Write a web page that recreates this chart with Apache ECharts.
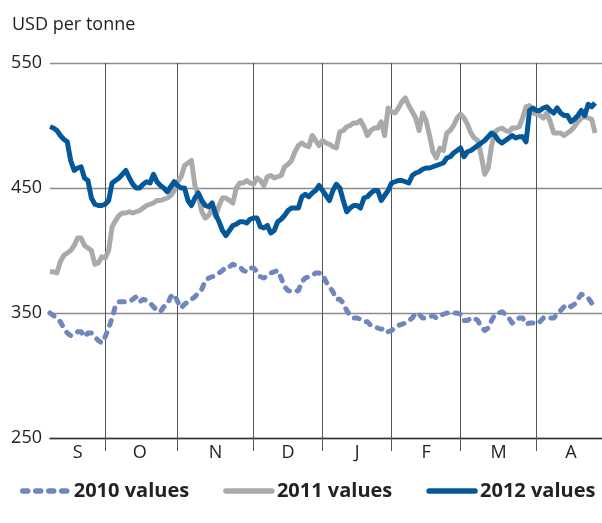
<!DOCTYPE html>
<html>
<head>
<meta charset="utf-8">
<script src="https://cdn.jsdelivr.net/npm/echarts@6/dist/echarts.min.js"></script>
<style>
  html, body { margin: 0; padding: 0; background: #fff; }
  #chart { width: 602px; height: 523px; }
</style>
</head>
<body>
<div id="chart"></div>
<script>
// months shown on the axis and how many trading days each one covers
const monthLabels = ['S', 'O', 'N', 'D', 'J', 'F', 'M', 'A'];
const monthLengths = [16, 21, 22, 20, 20, 20, 22, 20];
const yTicks = [250, 350, 450, 550];

// USD per tonne, one value per trading day
const values2010 = [
  350, 348, 346, 343, 338, 334, 332, 333, 335, 335, 331, 334, 334, 331, 328, 326,
  331, 338, 346, 356, 359, 359, 359, 359, 361, 363, 359, 361, 360, 358, 355, 352,
  351, 355, 357, 363, 365, 359, 354, 357, 359, 361, 363, 366, 369, 376, 378, 379,
  380, 382, 384, 387, 387, 389, 388, 387, 384, 383, 386, 386, 383, 379, 378, 380,
  382, 383, 384, 378, 371, 368, 367, 367, 368, 375, 378, 379, 380, 382, 382, 381,
  375, 371, 367, 361, 361, 358, 352, 348, 346, 346, 345, 343, 343, 340, 339, 338,
  337, 338, 335, 336, 338, 340, 341, 342, 344, 346, 350, 349, 346, 346, 347, 348,
  346, 348, 349, 350, 350, 350, 350, 349, 344, 344, 346, 346, 344, 339, 336, 338,
  344, 349, 350, 351, 349, 346, 342, 344, 346, 346, 341, 342, 342, 341, 343, 346,
  347, 346, 346, 349, 352, 355, 357, 355, 357, 361, 365, 364, 362, 358, 358
];
const values2011 = [
  383, 383, 382, 391, 396, 398, 400, 404, 410, 410, 404, 402, 400, 389, 390, 395,
  394, 400, 419, 424, 428, 430, 430, 431, 430, 431, 432, 434, 436, 437, 438, 440,
  440, 441, 442, 444, 448, 455, 459, 468, 470, 472, 452, 444, 431, 426, 428, 434,
  427, 436, 442, 442, 440, 438, 450, 454, 454, 456, 454, 453, 458, 456, 452, 459,
  460, 458, 459, 460, 467, 469, 472, 479, 484, 486, 484, 483, 492, 488, 484, 488,
  486, 485, 483, 482, 495, 496, 499, 500, 502, 502, 504, 499, 492, 496, 498, 498,
  503, 492, 514, 511, 510, 514, 519, 522, 516, 511, 506, 496, 510, 504, 492, 479,
  474, 482, 480, 494, 496, 500, 506, 509, 506, 501, 494, 490, 488, 476, 461, 466,
  484, 495, 497, 498, 496, 495, 498, 498, 499, 506, 515, 516, 510, 509, 508, 506,
  510, 503, 494, 494, 494, 492, 494, 496, 499, 503, 506, 507, 506, 505, 494
];
const values2012 = [
  499, 498, 496, 492, 489, 487, 472, 464, 466, 467, 458, 456, 442, 437, 436, 436,
  437, 440, 454, 456, 458, 461, 464, 458, 453, 450, 450, 453, 455, 454, 461, 455,
  452, 450, 447, 451, 455, 452, 450, 450, 440, 436, 442, 446, 440, 436, 435, 438,
  429, 423, 416, 412, 416, 420, 421, 423, 423, 422, 425, 426, 426, 419, 418, 420,
  414, 416, 423, 425, 428, 432, 434, 434, 434, 443, 445, 443, 446, 448, 452, 448,
  444, 440, 448, 453, 450, 440, 431, 434, 436, 436, 434, 442, 443, 446, 448, 448,
  440, 444, 448, 454, 455, 456, 456, 455, 454, 460, 462, 463, 465, 466, 466, 467,
  468, 469, 470, 474, 475, 478, 480, 482, 475, 479, 480, 482, 484, 486, 488, 491,
  494, 492, 488, 486, 488, 490, 492, 490, 491, 491, 487, 512, 514, 512, 512, 514,
  515, 512, 510, 514, 510, 508, 508, 503, 505, 508, 512, 508, 517, 515, 518
];

// one category per trading day, e.g. "O-3"
const days = [];
const monthStarts = [];
const labelDays = [];
monthLabels.forEach((m, k) => {
  monthStarts.push(days.length);
  labelDays.push(days.length + Math.floor(monthLengths[k] / 2));
  for (let d = 0; d < monthLengths[k]; d++) days.push(m + '-' + d);
});
const isBoundary = (idx) => idx > 0 && monthStarts.indexOf(idx) !== -1;

const myChart = echarts.init(document.getElementById('chart'));

const option = {
  animation: false,
  textStyle: { fontFamily: 'Open Sans, Noto Sans, sans-serif' },
  title: {
    text: 'USD per tonne',
    left: 7,
    top: 11,
    textStyle: { fontSize: 18, fontWeight: 'normal', color: '#222' }
  },
  grid: { left: 50, right: 0, top: 63, bottom: 85 },
  legend: {
    left: 20,
    bottom: 22,
    width: 582,
    padding: 0,
    itemWidth: 46,
    itemHeight: 14,
    itemGap: 34,
    itemStyle: { opacity: 0 },
    lineStyle: { width: 5.5, cap: 'round' },
    textStyle: { fontSize: 20, fontWeight: 'bold', color: '#222' },
    data: ['2010 values', '2011 values', '2012 values']
  },
  xAxis: {
    type: 'category',
    boundaryGap: false,
    data: days,
    axisLine: { show: true, lineStyle: { color: '#333', width: 1.3 } },
    axisTick: {
      show: true,
      length: 13,
      interval: (idx) => isBoundary(idx),
      lineStyle: { color: '#555', width: 1 }
    },
    splitLine: {
      show: true,
      interval: (idx) => isBoundary(idx),
      lineStyle: { color: '#555', width: 1 }
    },
    axisLabel: {
      interval: (idx) => labelDays.indexOf(idx) !== -1,
      formatter: (v) => v.split('-')[0],
      margin: 6,
      fontSize: 18,
      color: '#222'
    }
  },
  yAxis: {
    type: 'value',
    min: yTicks[0],
    max: yTicks[yTicks.length - 1],
    interval: 100,
    axisLine: { show: false },
    axisTick: { show: false },
    axisLabel: { fontSize: 18, color: '#222', margin: 8 },
    splitLine: { lineStyle: { color: '#8c8c8c', width: 1.3 } }
  },
  series: [
    {
      name: '2010 values',
      type: 'line',
      data: values2010,
      symbol: 'none',
      color: '#6f86bf',
      lineStyle: { width: 5, color: '#6f86bf', type: [5, 8], cap: 'round', join: 'round' }
    },
    {
      name: '2011 values',
      type: 'line',
      data: values2011,
      symbol: 'none',
      color: '#aaaaaa',
      lineStyle: { width: 5, color: '#aaaaaa', join: 'round' }
    },
    {
      name: '2012 values',
      type: 'line',
      data: values2012,
      symbol: 'none',
      color: '#04589a',
      lineStyle: { width: 5, color: '#04589a', join: 'round' }
    }
  ]
};

myChart.setOption(option);
</script>
</body>
</html>
